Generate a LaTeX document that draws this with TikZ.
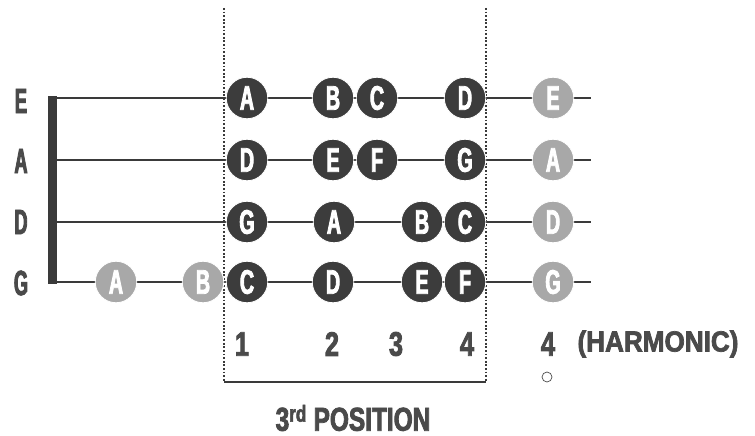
\documentclass[tikz,border=0pt]{standalone}
\usepackage{fontspec}
\newfontfamily\notefont{Liberation Sans Bold}[FakeStretch=0.58,FakeBold=2.5]
\newfontfamily\lblfont{Liberation Sans Bold}[FakeStretch=0.52,FakeBold=2.5]
\newfontfamily\digfont{Liberation Sans Bold}[FakeStretch=0.74,FakeBold=2.5]
\newfontfamily\harmfont{Liberation Sans Bold}[FakeStretch=0.9,FakeBold=2.5]
\definecolor{dk}{HTML}{3C3C3C}
\definecolor{lt}{HTML}{A8A8A8}
\definecolor{ln}{HTML}{3A3A3A}
\definecolor{tx}{HTML}{4A4A4A}
\begin{document}
\begin{tikzpicture}[x=1pt,y=-1pt,
  darknote/.style={circle,fill=dk,draw=white,line width=0.8pt,minimum size=41.5pt,inner sep=0pt,text=white,font=\notefont\fontsize{34}{34}\selectfont},
  lightnote/.style={darknote,fill=lt},
  stringline/.style={draw=ln,line width=2.4pt},
  dotline/.style={draw=ln,line width=2pt,dash pattern=on 1.8pt off 1.8pt},
  strlabel/.style={text=tx,inner sep=0pt,font=\lblfont\fontsize{35}{35}\selectfont},
  diglabel/.style={text=tx,inner sep=0pt,font=\digfont\fontsize{34}{34}\selectfont},
  harmlabel/.style={text=tx,inner sep=0pt,font=\harmfont\fontsize{29}{29}\selectfont}]
\useasboundingbox (0,0) rectangle (755,436);
% position frame
\coordinate (dl0) at (224,8);
\coordinate (dl1) at (224,382);
\coordinate (dr0) at (486,8);
\coordinate (dr1) at (486,382);
\draw[dotline] (dl0) -- (dl1);
\draw[dotline] (dr0) -- (dr1);
\draw[draw=ln,line width=2pt] (dl1) -- (dr1);
% bar
\coordinate (barT) at (52.5,96);
\coordinate (barB) at (52.5,284);
\draw[draw=ln,line width=9pt] (barT) -- (barB);
% strings
\foreach \nm/\y in {E/98,A/160,D/222,G/282}{
  \coordinate (s\nm0) at (57,\y);
  \coordinate (s\nm1) at (591,\y);
  \draw[stringline] (s\nm0) -- (s\nm1);
}
% string labels
\node[strlabel] (lE) at (21,101) {E};
\node[strlabel] (lA) at (21,161) {A};
\node[strlabel] (lD) at (21,222) {D};
\node[strlabel] (lG) at (21,283) {G};
% E string
\node[darknote] (e1) at (247,98) {A};
\node[darknote] (e2) at (333,98) {B};
\node[darknote] (e3) at (377,98) {C};
\node[darknote] (e4) at (465,98) {D};
\node[lightnote] (e5) at (553,98) {E};
% A string
\node[darknote] (a1) at (247,160) {D};
\node[darknote] (a2) at (333,160) {E};
\node[darknote] (a3) at (377,160) {F};
\node[darknote] (a4) at (465,160) {G};
\node[lightnote] (a5) at (553,160) {A};
% D string
\node[darknote] (d1) at (247,222) {G};
\node[darknote] (d2) at (334,222) {A};
\node[darknote] (d3) at (422,222) {B};
\node[darknote] (d4) at (465,222) {C};
\node[lightnote] (d5) at (553,222) {D};
% G string
\node[lightnote] (g1) at (116,282) {A};
\node[lightnote] (g2) at (203,282) {B};
\node[darknote] (g3) at (247,282) {C};
\node[darknote] (g4) at (333,282) {D};
\node[darknote] (g5) at (422,282) {E};
\node[darknote] (g6) at (465,282) {F};
\node[lightnote] (g7) at (553,282) {G};
% finger numbers
\node[diglabel] (f1) at (242,344) {1};
\node[diglabel] (f2) at (332,344) {2};
\node[diglabel] (f3) at (396,344) {3};
\node[diglabel] (f4) at (467,344) {4};
\node[diglabel] (f5) at (548,344) {4};
\node[harmlabel] (harm) at (658,344) {(HARMONIC)};
\node[circle,draw=tx,line width=0.7pt,minimum size=10pt,inner sep=0pt] (hcirc) at (547,377) {};
\node[diglabel,font=\digfont\fontsize{33}{33}\selectfont] (pos) at (353,418) {3\textsuperscript{rd} POSITION};
\end{tikzpicture}
\end{document}
